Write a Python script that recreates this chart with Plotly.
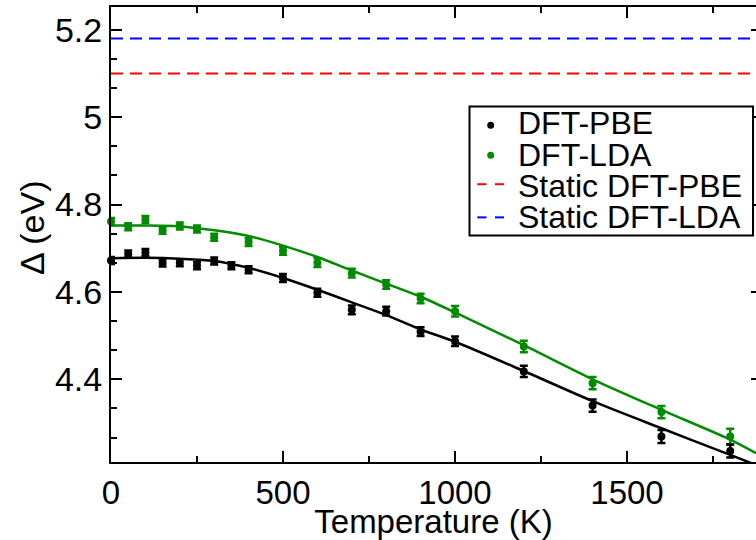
import plotly.graph_objects as go

# ---- data ----
T_pbe = [0, 50, 100, 150, 200, 250, 300, 350, 400, 500, 600, 700, 800, 900, 1000, 1200, 1400, 1600, 1800]
gap_pbe = [4.672, 4.687, 4.690, 4.666, 4.667, 4.660, 4.671, 4.660, 4.651, 4.632, 4.598, 4.559, 4.556,
           4.509, 4.487, 4.418, 4.340, 4.269, 4.236]
err_pbe = [0.008, 0.008, 0.008, 0.008, 0.008, 0.008, 0.008, 0.008, 0.008, 0.009, 0.009, 0.010, 0.010,
           0.010, 0.011, 0.013, 0.014, 0.015, 0.015]

T_lda = [0, 50, 100, 150, 200, 250, 300, 400, 500, 600, 700, 800, 900, 1000, 1200, 1400, 1600, 1800]
gap_lda = [4.761, 4.749, 4.766, 4.741, 4.751, 4.744, 4.725, 4.714, 4.694, 4.667, 4.643, 4.617, 4.585,
           4.556, 4.475, 4.391, 4.325, 4.269]
err_lda = [0.008, 0.008, 0.008, 0.008, 0.008, 0.008, 0.008, 0.009, 0.009, 0.010, 0.010, 0.010, 0.011,
           0.012, 0.013, 0.014, 0.014, 0.018]

fit_T = [0, 100, 200, 300, 400, 500, 600, 700, 800, 900, 1000, 1200, 1400, 1600, 1800, 1875]
fit_pbe = [4.677, 4.678, 4.676, 4.671, 4.655, 4.632, 4.605, 4.576, 4.547, 4.514, 4.486, 4.419,
           4.350, 4.288, 4.227, 4.204]
fit_lda = [4.752, 4.752, 4.750, 4.741, 4.728, 4.706, 4.680, 4.649, 4.619, 4.589, 4.553, 4.478,
           4.400, 4.330, 4.262, 4.231]

static_T = [0, 1875]
static_pbe = [5.10, 5.10]
static_lda = [5.18, 5.18]

x_ticks = [0, 500, 1000, 1500]
x_ticktext = ["0", "500", "1000", "1500"]
y_ticks = [4.4, 4.6, 4.8, 5.0, 5.2]
y_ticktext = ["4.4", "4.6", "4.8", "5", "5.2"]

legend_labels = ["DFT-PBE", "DFT-LDA", "Static DFT-PBE", "Static DFT-LDA"]

BLACK = "#000000"
GREEN = "#008b00"
RED = "#ff0000"
BLUE = "#0000ff"
FONT = "Liberation Sans, Arial, Helvetica, sans-serif"

XR = [0, 1875]
YR = [4.2107, 5.2522]

fig = go.Figure()

# static reference lines
fig.add_trace(go.Scatter(x=static_T, y=static_lda, mode="lines", yaxis="y2",
                         line=dict(color=BLUE, width=2, dash="12px,7px"), name=legend_labels[3],
                         showlegend=False, hoverinfo="skip"))
fig.add_trace(go.Scatter(x=static_T, y=static_pbe, mode="lines", yaxis="y2",
                         line=dict(color=RED, width=2, dash="12px,7px"), name=legend_labels[2],
                         showlegend=False, hoverinfo="skip"))

# fit curves
fig.add_trace(go.Scatter(x=fit_T, y=fit_lda, mode="lines", line=dict(color=GREEN, width=2.5, shape="spline",
                         smoothing=0.8), showlegend=False, hoverinfo="skip"))
fig.add_trace(go.Scatter(x=fit_T, y=fit_pbe, mode="lines", line=dict(color=BLACK, width=2.5, shape="spline",
                         smoothing=0.8), showlegend=False, hoverinfo="skip"))

# data points with error bars
fig.add_trace(go.Scatter(x=T_lda, y=gap_lda, mode="markers", name=legend_labels[1],
                         marker=dict(color=GREEN, size=8),
                         error_y=dict(type="data", array=err_lda, color=GREEN, thickness=2.5, width=4),
                         showlegend=False, cliponaxis=False))
fig.add_trace(go.Scatter(x=T_pbe, y=gap_pbe, mode="markers", name=legend_labels[0],
                         marker=dict(color=BLACK, size=8),
                         error_y=dict(type="data", array=err_pbe, color=BLACK, thickness=2.5, width=4),
                         showlegend=False, cliponaxis=False))

# ---- hand-drawn legend (paper coords) ----
L, R, T, B = 111, 756, 7, 464
W, H = R - L, B - T


def px(xp):
    return (xp - L) / W


def py(yp):
    return (B - yp) / H


shapes = [
    dict(type="rect", xref="paper", yref="paper", x0=px(469.5), x1=px(753), y0=py(236.5), y1=py(107),
         line=dict(color=BLACK, width=2), fillcolor="white", layer="above"),
]
marker_rows = [(125.7, BLACK), (156.0, GREEN)]
for yy, col in marker_rows:
    shapes.append(dict(type="circle", xref="paper", yref="paper", xsizemode="pixel", ysizemode="pixel",
                       xanchor=px(490.7), yanchor=py(yy), x0=-3.5, x1=3.5, y0=-3.5, y1=3.5,
                       fillcolor=col, line=dict(color=col, width=0), layer="above"))
dash_rows = [(185.0, RED), (218.3, BLUE)]
for yy, col in dash_rows:
    for a, b in [(477.3, 486.5), (495.0, 504.0)]:
        shapes.append(dict(type="line", xref="paper", yref="paper", x0=px(a), x1=px(b), y0=py(yy), y1=py(yy),
                           line=dict(color=col, width=2), layer="above"))

text_rows = [124.0, 155.5, 186.3, 217.5]
annotations = []
for lab, yy in zip(legend_labels, text_rows):
    annotations.append(dict(text=lab, xref="paper", yref="paper", x=px(516), y=py(yy), xanchor="left",
                            yanchor="middle", showarrow=False, font=dict(family=FONT, size=32, color=BLACK)))

# y-axis title
annotations.append(dict(text="Δ (eV)", xref="paper", yref="paper", x=px(32), y=py(229), xanchor="center",
                        yanchor="middle", textangle=-90, showarrow=False,
                        font=dict(family=FONT, size=34, color=BLACK)))

fig.update_layout(
    width=756, height=540,
    margin=dict(l=L, r=0, t=T, b=540 - B),
    paper_bgcolor="white", plot_bgcolor="white",
    font=dict(family=FONT, size=34, color=BLACK),
    showlegend=False,
    shapes=shapes, annotations=annotations,
    xaxis=dict(range=XR, tickvals=x_ticks, ticktext=x_ticktext, ticks="inside", ticklen=11, tickwidth=2,
               tickcolor=BLACK, showline=True, linecolor=BLACK, linewidth=2, mirror="ticks",
               showgrid=False, zeroline=False, tickfont=dict(size=33),
               minor=dict(dtick=250, tick0=0, ticks="inside", ticklen=6, tickwidth=2, tickcolor=BLACK,
                          showgrid=False),
               title=dict(text="Temperature (K)", font=dict(size=33), standoff=6)),
    yaxis=dict(range=YR, tickvals=y_ticks, ticktext=y_ticktext, ticks="inside", ticklen=11, tickwidth=2,
               tickcolor=BLACK, showline=True, linecolor=BLACK, linewidth=2, mirror=False,
               showgrid=False, zeroline=False, tickfont=dict(size=34),
               minor=dict(dtick=0.2 / 3, tick0=4.4, ticks="inside", ticklen=6, tickwidth=2, tickcolor=BLACK,
                          showgrid=False)),
    yaxis2=dict(range=YR, overlaying="y", side="right", anchor="x", tickvals=y_ticks, ticks="inside",
                ticklen=5, tickwidth=2, tickcolor=BLACK, showticklabels=False, showline=False,
                showgrid=False, zeroline=False),
)

fig.write_html("out.html")
